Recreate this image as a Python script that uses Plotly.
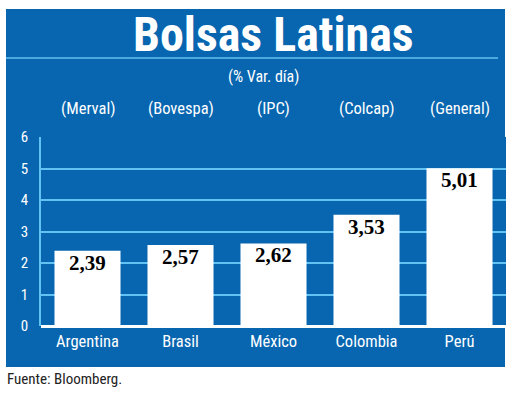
import plotly.graph_objects as go

countries = ["Argentina", "Brasil", "México", "Colombia", "Perú"]
indices = ["(Merval)", "(Bovespa)", "(IPC)", "(Colcap)", "(General)"]
values = [2.39, 2.57, 2.62, 3.53, 5.01]
y_ticks = [0, 1, 2, 3, 4, 5, 6]

BLUE = "#0866B0"
LIGHT = "#62C3F2"
SANS = "Roboto Condensed, DejaVu Sans Condensed, sans-serif"
SERIF = "Liberation Serif, Times New Roman, serif"

W, H = 520, 411
L, R, T, B = 41, 14, 137, 85
pw, ph = W - L - R, H - T - B

def px(x):
    return (x - L) / pw

def py(y):
    return (H - B - y) / ph

fig = go.Figure()
fig.add_trace(go.Bar(x=countries, y=values, marker=dict(color="white", line=dict(width=0)),
                     width=0.71, hoverinfo="skip"))

shapes = [
    dict(type="rect", xref="paper", yref="paper", x0=px(6), x1=px(505), y0=py(367), y1=py(9),
         fillcolor=BLUE, line=dict(width=0), layer="below"),
    dict(type="line", xref="paper", yref="paper", x0=px(6), x1=px(498), y0=py(58), y1=py(58),
         line=dict(color=LIGHT, width=1.5), layer="below"),
]

annotations = [
    dict(text="<b>Bolsas Latinas</b>", xref="paper", yref="paper", x=px(273), y=py(35),
         xanchor="center", yanchor="middle", showarrow=False,
         font=dict(family=SANS, size=48, color="white")),
    dict(text="(% Var. día)", xref="paper", yref="paper", x=px(263), y=py(76),
         xanchor="center", yanchor="middle", showarrow=False,
         font=dict(family=SANS, size=16, color="white")),
    dict(text="Fuente: Bloomberg.", xref="paper", yref="paper", x=px(5), y=py(379),
         xanchor="left", yanchor="middle", showarrow=False,
         font=dict(family=SANS, size=15, color="#222222")),
]
for c, idx in zip(countries, indices):
    annotations.append(dict(text=idx, xref="x", yref="paper", x=c, y=py(108),
                            xanchor="center", yanchor="middle", showarrow=False,
                            font=dict(family=SANS, size=16.5, color="white")))
for c, v in zip(countries, values):
    annotations.append(dict(text="<b>" + f"{v:.2f}".replace(".", ",") + "</b>", xref="x", yref="y",
                            x=c, y=v, xanchor="center", yanchor="top", yshift=2, showarrow=False,
                            font=dict(family=SERIF, size=21, color="black")))

fig.update_layout(
    width=W, height=H, margin=dict(l=L, r=R, t=T, b=B, pad=0),
    paper_bgcolor="white", plot_bgcolor=BLUE,
    showlegend=False, bargap=0.29,
    shapes=shapes, annotations=annotations,
    xaxis=dict(showgrid=False, showline=False, zeroline=False, ticks="",
               tickfont=dict(family=SANS, size=16.5, color="white"), ticklabelstandoff=3,
               fixedrange=True),
    yaxis=dict(range=[0, 6], tickvals=y_ticks, showgrid=True, gridcolor=LIGHT, gridwidth=1.5,
               zeroline=True, zerolinecolor="white", zerolinewidth=3,
               showline=True, linecolor=LIGHT, linewidth=1.5, ticks="",
               tickfont=dict(family=SANS, size=15, color="white"), ticklabelstandoff=8,
               fixedrange=True),
)

fig.write_html("out.html")
